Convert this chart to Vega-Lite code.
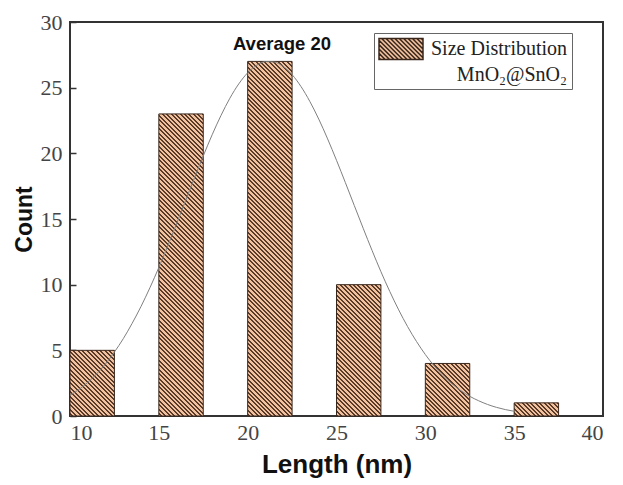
{
  "$schema": "https://vega.github.io/schema/vega-lite/v6.json",
  "width": 533,
  "height": 394,
  "autosize": {"type": "none"},
  "padding": {"left": 70, "top": 22, "right": 20, "bottom": 69},
  "background": "white",
  "params": [
    {"name": "hatch", "value": [
{"offset":0,"color":"#5a3a28"},{"offset":0.005,"color":"#5a3a28"},{"offset":0.005,"color":"#f2c29e"},{"offset":0.0111,"color":"#f2c29e"},
{"offset":0.0111,"color":"#5a3a28"},{"offset":0.0161,"color":"#5a3a28"},{"offset":0.0161,"color":"#f2c29e"},{"offset":0.0222,"color":"#f2c29e"},
{"offset":0.0222,"color":"#5a3a28"},{"offset":0.0272,"color":"#5a3a28"},{"offset":0.0272,"color":"#f2c29e"},{"offset":0.0333,"color":"#f2c29e"},
{"offset":0.0333,"color":"#5a3a28"},{"offset":0.0383,"color":"#5a3a28"},{"offset":0.0383,"color":"#f2c29e"},{"offset":0.0444,"color":"#f2c29e"},
{"offset":0.0444,"color":"#5a3a28"},{"offset":0.0494,"color":"#5a3a28"},{"offset":0.0494,"color":"#f2c29e"},{"offset":0.0556,"color":"#f2c29e"},
{"offset":0.0556,"color":"#5a3a28"},{"offset":0.0606,"color":"#5a3a28"},{"offset":0.0606,"color":"#f2c29e"},{"offset":0.0667,"color":"#f2c29e"},
{"offset":0.0667,"color":"#5a3a28"},{"offset":0.0717,"color":"#5a3a28"},{"offset":0.0717,"color":"#f2c29e"},{"offset":0.0778,"color":"#f2c29e"},
{"offset":0.0778,"color":"#5a3a28"},{"offset":0.0828,"color":"#5a3a28"},{"offset":0.0828,"color":"#f2c29e"},{"offset":0.0889,"color":"#f2c29e"},
{"offset":0.0889,"color":"#5a3a28"},{"offset":0.0939,"color":"#5a3a28"},{"offset":0.0939,"color":"#f2c29e"},{"offset":0.1,"color":"#f2c29e"},
{"offset":0.1,"color":"#5a3a28"},{"offset":0.105,"color":"#5a3a28"},{"offset":0.105,"color":"#f2c29e"},{"offset":0.1111,"color":"#f2c29e"},
{"offset":0.1111,"color":"#5a3a28"},{"offset":0.1161,"color":"#5a3a28"},{"offset":0.1161,"color":"#f2c29e"},{"offset":0.1222,"color":"#f2c29e"},
{"offset":0.1222,"color":"#5a3a28"},{"offset":0.1272,"color":"#5a3a28"},{"offset":0.1272,"color":"#f2c29e"},{"offset":0.1333,"color":"#f2c29e"},
{"offset":0.1333,"color":"#5a3a28"},{"offset":0.1383,"color":"#5a3a28"},{"offset":0.1383,"color":"#f2c29e"},{"offset":0.1444,"color":"#f2c29e"},
{"offset":0.1444,"color":"#5a3a28"},{"offset":0.1494,"color":"#5a3a28"},{"offset":0.1494,"color":"#f2c29e"},{"offset":0.1556,"color":"#f2c29e"},
{"offset":0.1556,"color":"#5a3a28"},{"offset":0.1606,"color":"#5a3a28"},{"offset":0.1606,"color":"#f2c29e"},{"offset":0.1667,"color":"#f2c29e"},
{"offset":0.1667,"color":"#5a3a28"},{"offset":0.1717,"color":"#5a3a28"},{"offset":0.1717,"color":"#f2c29e"},{"offset":0.1778,"color":"#f2c29e"},
{"offset":0.1778,"color":"#5a3a28"},{"offset":0.1828,"color":"#5a3a28"},{"offset":0.1828,"color":"#f2c29e"},{"offset":0.1889,"color":"#f2c29e"},
{"offset":0.1889,"color":"#5a3a28"},{"offset":0.1939,"color":"#5a3a28"},{"offset":0.1939,"color":"#f2c29e"},{"offset":0.2,"color":"#f2c29e"},
{"offset":0.2,"color":"#5a3a28"},{"offset":0.205,"color":"#5a3a28"},{"offset":0.205,"color":"#f2c29e"},{"offset":0.2111,"color":"#f2c29e"},
{"offset":0.2111,"color":"#5a3a28"},{"offset":0.2161,"color":"#5a3a28"},{"offset":0.2161,"color":"#f2c29e"},{"offset":0.2222,"color":"#f2c29e"},
{"offset":0.2222,"color":"#5a3a28"},{"offset":0.2272,"color":"#5a3a28"},{"offset":0.2272,"color":"#f2c29e"},{"offset":0.2333,"color":"#f2c29e"},
{"offset":0.2333,"color":"#5a3a28"},{"offset":0.2383,"color":"#5a3a28"},{"offset":0.2383,"color":"#f2c29e"},{"offset":0.2444,"color":"#f2c29e"},
{"offset":0.2444,"color":"#5a3a28"},{"offset":0.2494,"color":"#5a3a28"},{"offset":0.2494,"color":"#f2c29e"},{"offset":0.2556,"color":"#f2c29e"},
{"offset":0.2556,"color":"#5a3a28"},{"offset":0.2606,"color":"#5a3a28"},{"offset":0.2606,"color":"#f2c29e"},{"offset":0.2667,"color":"#f2c29e"},
{"offset":0.2667,"color":"#5a3a28"},{"offset":0.2717,"color":"#5a3a28"},{"offset":0.2717,"color":"#f2c29e"},{"offset":0.2778,"color":"#f2c29e"},
{"offset":0.2778,"color":"#5a3a28"},{"offset":0.2828,"color":"#5a3a28"},{"offset":0.2828,"color":"#f2c29e"},{"offset":0.2889,"color":"#f2c29e"},
{"offset":0.2889,"color":"#5a3a28"},{"offset":0.2939,"color":"#5a3a28"},{"offset":0.2939,"color":"#f2c29e"},{"offset":0.3,"color":"#f2c29e"},
{"offset":0.3,"color":"#5a3a28"},{"offset":0.305,"color":"#5a3a28"},{"offset":0.305,"color":"#f2c29e"},{"offset":0.3111,"color":"#f2c29e"},
{"offset":0.3111,"color":"#5a3a28"},{"offset":0.3161,"color":"#5a3a28"},{"offset":0.3161,"color":"#f2c29e"},{"offset":0.3222,"color":"#f2c29e"},
{"offset":0.3222,"color":"#5a3a28"},{"offset":0.3272,"color":"#5a3a28"},{"offset":0.3272,"color":"#f2c29e"},{"offset":0.3333,"color":"#f2c29e"},
{"offset":0.3333,"color":"#5a3a28"},{"offset":0.3383,"color":"#5a3a28"},{"offset":0.3383,"color":"#f2c29e"},{"offset":0.3444,"color":"#f2c29e"},
{"offset":0.3444,"color":"#5a3a28"},{"offset":0.3494,"color":"#5a3a28"},{"offset":0.3494,"color":"#f2c29e"},{"offset":0.3556,"color":"#f2c29e"},
{"offset":0.3556,"color":"#5a3a28"},{"offset":0.3606,"color":"#5a3a28"},{"offset":0.3606,"color":"#f2c29e"},{"offset":0.3667,"color":"#f2c29e"},
{"offset":0.3667,"color":"#5a3a28"},{"offset":0.3717,"color":"#5a3a28"},{"offset":0.3717,"color":"#f2c29e"},{"offset":0.3778,"color":"#f2c29e"},
{"offset":0.3778,"color":"#5a3a28"},{"offset":0.3828,"color":"#5a3a28"},{"offset":0.3828,"color":"#f2c29e"},{"offset":0.3889,"color":"#f2c29e"},
{"offset":0.3889,"color":"#5a3a28"},{"offset":0.3939,"color":"#5a3a28"},{"offset":0.3939,"color":"#f2c29e"},{"offset":0.4,"color":"#f2c29e"},
{"offset":0.4,"color":"#5a3a28"},{"offset":0.405,"color":"#5a3a28"},{"offset":0.405,"color":"#f2c29e"},{"offset":0.4111,"color":"#f2c29e"},
{"offset":0.4111,"color":"#5a3a28"},{"offset":0.4161,"color":"#5a3a28"},{"offset":0.4161,"color":"#f2c29e"},{"offset":0.4222,"color":"#f2c29e"},
{"offset":0.4222,"color":"#5a3a28"},{"offset":0.4272,"color":"#5a3a28"},{"offset":0.4272,"color":"#f2c29e"},{"offset":0.4333,"color":"#f2c29e"},
{"offset":0.4333,"color":"#5a3a28"},{"offset":0.4383,"color":"#5a3a28"},{"offset":0.4383,"color":"#f2c29e"},{"offset":0.4444,"color":"#f2c29e"},
{"offset":0.4444,"color":"#5a3a28"},{"offset":0.4494,"color":"#5a3a28"},{"offset":0.4494,"color":"#f2c29e"},{"offset":0.4556,"color":"#f2c29e"},
{"offset":0.4556,"color":"#5a3a28"},{"offset":0.4606,"color":"#5a3a28"},{"offset":0.4606,"color":"#f2c29e"},{"offset":0.4667,"color":"#f2c29e"},
{"offset":0.4667,"color":"#5a3a28"},{"offset":0.4717,"color":"#5a3a28"},{"offset":0.4717,"color":"#f2c29e"},{"offset":0.4778,"color":"#f2c29e"},
{"offset":0.4778,"color":"#5a3a28"},{"offset":0.4828,"color":"#5a3a28"},{"offset":0.4828,"color":"#f2c29e"},{"offset":0.4889,"color":"#f2c29e"},
{"offset":0.4889,"color":"#5a3a28"},{"offset":0.4939,"color":"#5a3a28"},{"offset":0.4939,"color":"#f2c29e"},{"offset":0.5,"color":"#f2c29e"},
{"offset":0.5,"color":"#5a3a28"},{"offset":0.505,"color":"#5a3a28"},{"offset":0.505,"color":"#f2c29e"},{"offset":0.5111,"color":"#f2c29e"},
{"offset":0.5111,"color":"#5a3a28"},{"offset":0.5161,"color":"#5a3a28"},{"offset":0.5161,"color":"#f2c29e"},{"offset":0.5222,"color":"#f2c29e"},
{"offset":0.5222,"color":"#5a3a28"},{"offset":0.5272,"color":"#5a3a28"},{"offset":0.5272,"color":"#f2c29e"},{"offset":0.5333,"color":"#f2c29e"},
{"offset":0.5333,"color":"#5a3a28"},{"offset":0.5383,"color":"#5a3a28"},{"offset":0.5383,"color":"#f2c29e"},{"offset":0.5444,"color":"#f2c29e"},
{"offset":0.5444,"color":"#5a3a28"},{"offset":0.5494,"color":"#5a3a28"},{"offset":0.5494,"color":"#f2c29e"},{"offset":0.5556,"color":"#f2c29e"},
{"offset":0.5556,"color":"#5a3a28"},{"offset":0.5606,"color":"#5a3a28"},{"offset":0.5606,"color":"#f2c29e"},{"offset":0.5667,"color":"#f2c29e"},
{"offset":0.5667,"color":"#5a3a28"},{"offset":0.5717,"color":"#5a3a28"},{"offset":0.5717,"color":"#f2c29e"},{"offset":0.5778,"color":"#f2c29e"},
{"offset":0.5778,"color":"#5a3a28"},{"offset":0.5828,"color":"#5a3a28"},{"offset":0.5828,"color":"#f2c29e"},{"offset":0.5889,"color":"#f2c29e"},
{"offset":0.5889,"color":"#5a3a28"},{"offset":0.5939,"color":"#5a3a28"},{"offset":0.5939,"color":"#f2c29e"},{"offset":0.6,"color":"#f2c29e"},
{"offset":0.6,"color":"#5a3a28"},{"offset":0.605,"color":"#5a3a28"},{"offset":0.605,"color":"#f2c29e"},{"offset":0.6111,"color":"#f2c29e"},
{"offset":0.6111,"color":"#5a3a28"},{"offset":0.6161,"color":"#5a3a28"},{"offset":0.6161,"color":"#f2c29e"},{"offset":0.6222,"color":"#f2c29e"},
{"offset":0.6222,"color":"#5a3a28"},{"offset":0.6272,"color":"#5a3a28"},{"offset":0.6272,"color":"#f2c29e"},{"offset":0.6333,"color":"#f2c29e"},
{"offset":0.6333,"color":"#5a3a28"},{"offset":0.6383,"color":"#5a3a28"},{"offset":0.6383,"color":"#f2c29e"},{"offset":0.6444,"color":"#f2c29e"},
{"offset":0.6444,"color":"#5a3a28"},{"offset":0.6494,"color":"#5a3a28"},{"offset":0.6494,"color":"#f2c29e"},{"offset":0.6556,"color":"#f2c29e"},
{"offset":0.6556,"color":"#5a3a28"},{"offset":0.6606,"color":"#5a3a28"},{"offset":0.6606,"color":"#f2c29e"},{"offset":0.6667,"color":"#f2c29e"},
{"offset":0.6667,"color":"#5a3a28"},{"offset":0.6717,"color":"#5a3a28"},{"offset":0.6717,"color":"#f2c29e"},{"offset":0.6778,"color":"#f2c29e"},
{"offset":0.6778,"color":"#5a3a28"},{"offset":0.6828,"color":"#5a3a28"},{"offset":0.6828,"color":"#f2c29e"},{"offset":0.6889,"color":"#f2c29e"},
{"offset":0.6889,"color":"#5a3a28"},{"offset":0.6939,"color":"#5a3a28"},{"offset":0.6939,"color":"#f2c29e"},{"offset":0.7,"color":"#f2c29e"},
{"offset":0.7,"color":"#5a3a28"},{"offset":0.705,"color":"#5a3a28"},{"offset":0.705,"color":"#f2c29e"},{"offset":0.7111,"color":"#f2c29e"},
{"offset":0.7111,"color":"#5a3a28"},{"offset":0.7161,"color":"#5a3a28"},{"offset":0.7161,"color":"#f2c29e"},{"offset":0.7222,"color":"#f2c29e"},
{"offset":0.7222,"color":"#5a3a28"},{"offset":0.7272,"color":"#5a3a28"},{"offset":0.7272,"color":"#f2c29e"},{"offset":0.7333,"color":"#f2c29e"},
{"offset":0.7333,"color":"#5a3a28"},{"offset":0.7383,"color":"#5a3a28"},{"offset":0.7383,"color":"#f2c29e"},{"offset":0.7444,"color":"#f2c29e"},
{"offset":0.7444,"color":"#5a3a28"},{"offset":0.7494,"color":"#5a3a28"},{"offset":0.7494,"color":"#f2c29e"},{"offset":0.7556,"color":"#f2c29e"},
{"offset":0.7556,"color":"#5a3a28"},{"offset":0.7606,"color":"#5a3a28"},{"offset":0.7606,"color":"#f2c29e"},{"offset":0.7667,"color":"#f2c29e"},
{"offset":0.7667,"color":"#5a3a28"},{"offset":0.7717,"color":"#5a3a28"},{"offset":0.7717,"color":"#f2c29e"},{"offset":0.7778,"color":"#f2c29e"},
{"offset":0.7778,"color":"#5a3a28"},{"offset":0.7828,"color":"#5a3a28"},{"offset":0.7828,"color":"#f2c29e"},{"offset":0.7889,"color":"#f2c29e"},
{"offset":0.7889,"color":"#5a3a28"},{"offset":0.7939,"color":"#5a3a28"},{"offset":0.7939,"color":"#f2c29e"},{"offset":0.8,"color":"#f2c29e"},
{"offset":0.8,"color":"#5a3a28"},{"offset":0.805,"color":"#5a3a28"},{"offset":0.805,"color":"#f2c29e"},{"offset":0.8111,"color":"#f2c29e"},
{"offset":0.8111,"color":"#5a3a28"},{"offset":0.8161,"color":"#5a3a28"},{"offset":0.8161,"color":"#f2c29e"},{"offset":0.8222,"color":"#f2c29e"},
{"offset":0.8222,"color":"#5a3a28"},{"offset":0.8272,"color":"#5a3a28"},{"offset":0.8272,"color":"#f2c29e"},{"offset":0.8333,"color":"#f2c29e"},
{"offset":0.8333,"color":"#5a3a28"},{"offset":0.8383,"color":"#5a3a28"},{"offset":0.8383,"color":"#f2c29e"},{"offset":0.8444,"color":"#f2c29e"},
{"offset":0.8444,"color":"#5a3a28"},{"offset":0.8494,"color":"#5a3a28"},{"offset":0.8494,"color":"#f2c29e"},{"offset":0.8556,"color":"#f2c29e"},
{"offset":0.8556,"color":"#5a3a28"},{"offset":0.8606,"color":"#5a3a28"},{"offset":0.8606,"color":"#f2c29e"},{"offset":0.8667,"color":"#f2c29e"},
{"offset":0.8667,"color":"#5a3a28"},{"offset":0.8717,"color":"#5a3a28"},{"offset":0.8717,"color":"#f2c29e"},{"offset":0.8778,"color":"#f2c29e"},
{"offset":0.8778,"color":"#5a3a28"},{"offset":0.8828,"color":"#5a3a28"},{"offset":0.8828,"color":"#f2c29e"},{"offset":0.8889,"color":"#f2c29e"},
{"offset":0.8889,"color":"#5a3a28"},{"offset":0.8939,"color":"#5a3a28"},{"offset":0.8939,"color":"#f2c29e"},{"offset":0.9,"color":"#f2c29e"},
{"offset":0.9,"color":"#5a3a28"},{"offset":0.905,"color":"#5a3a28"},{"offset":0.905,"color":"#f2c29e"},{"offset":0.9111,"color":"#f2c29e"},
{"offset":0.9111,"color":"#5a3a28"},{"offset":0.9161,"color":"#5a3a28"},{"offset":0.9161,"color":"#f2c29e"},{"offset":0.9222,"color":"#f2c29e"},
{"offset":0.9222,"color":"#5a3a28"},{"offset":0.9272,"color":"#5a3a28"},{"offset":0.9272,"color":"#f2c29e"},{"offset":0.9333,"color":"#f2c29e"},
{"offset":0.9333,"color":"#5a3a28"},{"offset":0.9383,"color":"#5a3a28"},{"offset":0.9383,"color":"#f2c29e"},{"offset":0.9444,"color":"#f2c29e"},
{"offset":0.9444,"color":"#5a3a28"},{"offset":0.9494,"color":"#5a3a28"},{"offset":0.9494,"color":"#f2c29e"},{"offset":0.9556,"color":"#f2c29e"},
{"offset":0.9556,"color":"#5a3a28"},{"offset":0.9606,"color":"#5a3a28"},{"offset":0.9606,"color":"#f2c29e"},{"offset":0.9667,"color":"#f2c29e"},
{"offset":0.9667,"color":"#5a3a28"},{"offset":0.9717,"color":"#5a3a28"},{"offset":0.9717,"color":"#f2c29e"},{"offset":0.9778,"color":"#f2c29e"},
{"offset":0.9778,"color":"#5a3a28"},{"offset":0.9828,"color":"#5a3a28"},{"offset":0.9828,"color":"#f2c29e"},{"offset":0.9889,"color":"#f2c29e"},
{"offset":0.9889,"color":"#5a3a28"},{"offset":0.9939,"color":"#5a3a28"},{"offset":0.9939,"color":"#f2c29e"},{"offset":1,"color":"#f2c29e"}
    ]}
  ],
  "datasets": {
    "bins": [
      {"start": 10, "end": 12.5, "count": 5},
      {"start": 15, "end": 17.5, "count": 23},
      {"start": 20, "end": 22.5, "count": 27},
      {"start": 25, "end": 27.5, "count": 10},
      {"start": 30, "end": 32.5, "count": 4},
      {"start": 35, "end": 37.5, "count": 1}
    ],
    "fit": [
      {"x": 10, "y": 1.58}, {"x": 10.5, "y": 2.02}, {"x": 11, "y": 2.56}, {"x": 11.5, "y": 3.21},
      {"x": 12, "y": 3.97}, {"x": 12.5, "y": 4.87}, {"x": 13, "y": 5.89}, {"x": 13.5, "y": 7.06},
      {"x": 14, "y": 8.35}, {"x": 14.5, "y": 9.77}, {"x": 15, "y": 11.31}, {"x": 15.5, "y": 12.94},
      {"x": 16, "y": 14.64}, {"x": 16.5, "y": 16.38}, {"x": 17, "y": 18.11}, {"x": 17.5, "y": 19.8},
      {"x": 18, "y": 21.41}, {"x": 18.5, "y": 22.89}, {"x": 19, "y": 24.2}, {"x": 19.5, "y": 25.29},
      {"x": 20, "y": 26.13}, {"x": 20.5, "y": 26.7}, {"x": 21, "y": 26.98}, {"x": 21.5, "y": 26.95},
      {"x": 22, "y": 26.61}, {"x": 22.5, "y": 25.99}, {"x": 23, "y": 25.09}, {"x": 23.5, "y": 23.95},
      {"x": 24, "y": 22.61}, {"x": 24.5, "y": 21.1}, {"x": 25, "y": 19.47}, {"x": 25.5, "y": 17.77},
      {"x": 26, "y": 16.03}, {"x": 26.5, "y": 14.3}, {"x": 27, "y": 12.61}, {"x": 27.5, "y": 10.99},
      {"x": 28, "y": 9.48}, {"x": 28.5, "y": 8.08}, {"x": 29, "y": 6.81}, {"x": 29.5, "y": 5.68},
      {"x": 30, "y": 4.68}, {"x": 30.5, "y": 3.81}, {"x": 31, "y": 3.07}, {"x": 31.5, "y": 2.45},
      {"x": 32, "y": 1.93}, {"x": 32.5, "y": 1.5}, {"x": 33, "y": 1.16}, {"x": 33.5, "y": 0.88},
      {"x": 34, "y": 0.66}, {"x": 34.5, "y": 0.49}, {"x": 35, "y": 0.36}
    ]
  },
  "layer": [
    {
      "data": {"name": "bins"},
      "mark": {
        "type": "bar",
        "strokeWidth": 1,
        "fill": {"expr": "{gradient: 'linear', x1: 1, y1: 0, x2: 1 - 17808 / (pow(datum.count * 13.1333, 2) + 1972.8), y2: 400.93 * datum.count * 13.1333 / (pow(datum.count * 13.1333, 2) + 1972.8), stops: hatch}"}
      },
      "encoding": {
        "x": {"field": "start", "type": "quantitative", "scale": {"domain": [10, 40], "nice": false, "zero": false}, "title": "Length (nm)", "axis": {"values": [10, 15, 20, 25, 30, 35, 40]}},
        "x2": {"field": "end"},
        "y": {"field": "count", "type": "quantitative", "scale": {"domain": [0, 30], "nice": false}, "title": "Count", "axis": {"values": [0, 5, 10, 15, 20, 25, 30]}},
        "y2": {"datum": 0},
        "stroke": {
          "datum": "Size Distribution",
          "type": "nominal",
          "scale": {"range": ["#3a271c"]},
          "legend": {
            "orient": "none",
            "legendX": 304,
            "legendY": 11,
            "title": "MnO₂@SnO₂",
            "titleOrient": "bottom",
            "titleAnchor": "end",
            "titleFont": "Liberation Serif",
            "titleFontSize": 20,
            "titleFontWeight": "normal",
            "titleColor": "#222",
            "titlePadding": 2,
            "symbolType": "M-1,-0.96H3V0.96H-1Z M-1,0.8L-0.84,0.96 M-1,0.4L-0.44,0.96 M-1,0L-0.04,0.96 M-1,-0.4L0.36,0.96 M-1,-0.8L0.76,0.96 M-0.76,-0.96L1.16,0.96 M-0.36,-0.96L1.56,0.96 M0.04,-0.96L1.96,0.96 M0.44,-0.96L2.36,0.96 M0.84,-0.96L2.76,0.96 M1.24,-0.96L3,0.8 M1.64,-0.96L3,0.4 M2.04,-0.96L3,0 M2.44,-0.96L3,-0.4 M2.84,-0.96L3,-0.8",
            "symbolSize": 484,
            "symbolFillColor": "#f2c29e",
            "symbolStrokeColor": "#5a3a28",
            "symbolStrokeWidth": 1.5,
            "labelFont": "Liberation Serif",
            "labelFontSize": 20,
            "labelColor": "#222",
            "labelOffset": 29,
            "strokeColor": "#666",
            "padding": 4
          }
        }
      }
    },
    {
      "data": {"name": "fit"},
      "mark": {"type": "line", "color": "#808080", "strokeWidth": 1, "interpolate": "monotone"},
      "encoding": {
        "x": {"field": "x", "type": "quantitative", "scale": {"domain": [10, 40], "nice": false, "zero": false}, "title": "Length (nm)"},
        "y": {"field": "y", "type": "quantitative", "scale": {"domain": [0, 30], "nice": false}, "title": "Count"}
      }
    },
    {
      "data": {"values": [{}]},
      "mark": {"type": "text", "text": "Average 20", "font": "Liberation Sans", "fontWeight": "bold", "fontSize": 18.5, "color": "#111", "align": "center", "baseline": "alphabetic"},
      "encoding": {
        "x": {"datum": 21.93, "type": "quantitative", "title": "Length (nm)"},
        "y": {"datum": 27.87, "type": "quantitative", "title": "Count"}
      }
    }
  ],
  "config": {
    "view": {"stroke": "#333", "strokeWidth": 2},
    "axis": {
      "grid": false,
      "domain": false,
      "tickColor": "#333",
      "tickWidth": 1.5,
      "labelFont": "Liberation Serif",
      "labelFontSize": 22,
      "labelColor": "#444",
      "titleFont": "Liberation Sans",
      "titleFontWeight": "bold",
      "titleColor": "#111"
    },
    "axisX": {"ticks": false, "labelPadding": 6, "titlePadding": 8, "titleFontSize": 26},
    "axisY": {"ticks": true, "tickSize": 6, "offset": -6, "labelPadding": 8, "titlePadding": 4, "titleFontSize": 23}
  }
}
